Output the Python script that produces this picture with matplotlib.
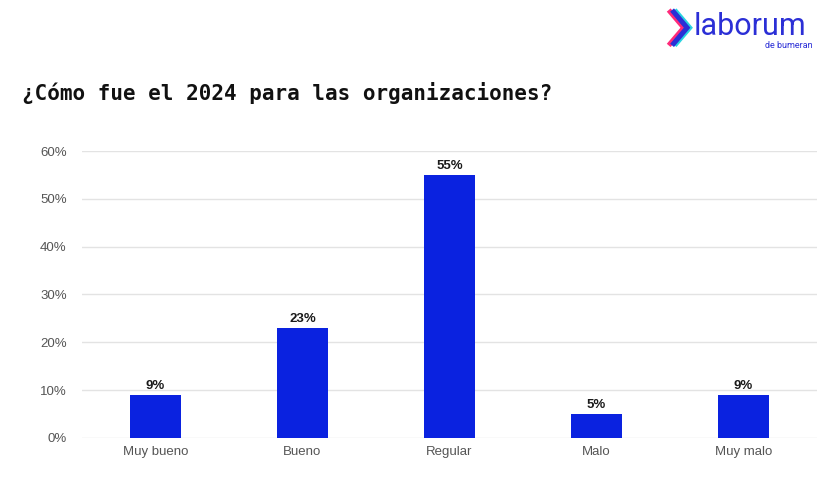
import matplotlib.pyplot as plt
from matplotlib.ticker import PercentFormatter

categories = ['Muy bueno', 'Bueno', 'Regular', 'Malo', 'Muy malo']
values = [0.09, 0.23, 0.55, 0.05, 0.09]
labels = ['9%', '23%', '55%', '5%', '9%']
yticks = [0, 0.1, 0.2, 0.3, 0.4, 0.5, 0.6]

bar_color = '#0a22e0'
brand = '#2b2fd6'

fig = plt.figure(figsize=(8.4, 4.78), dpi=100, facecolor='white')
ax = fig.add_axes([0.0976, 0.0837, 0.875, 0.6004])

x = range(len(categories))
ax.bar(x, values, width=0.35, color=bar_color, zorder=3)
for i, (v, lab) in enumerate(zip(values, labels)):
    ax.text(i, v + 0.007, lab, ha='center', va='bottom', fontsize=9.5,
            fontweight='bold', color='#1a1a1a', family='Liberation Sans')

ax.set_xlim(-0.5, len(categories) - 0.5)
ax.set_ylim(0, 0.6)
ax.set_yticks(yticks)
ax.yaxis.set_major_formatter(PercentFormatter(1.0, decimals=0))
ax.set_xticks(list(x))
ax.set_xticklabels(categories)
ax.grid(axis='y', color='#e3e3e3', linewidth=1, zorder=0)
ax.tick_params(length=0, labelsize=9.5, colors='#555555', pad=6)
ax.tick_params(axis='y', pad=11)
for lab in ax.get_xticklabels() + ax.get_yticklabels():
    lab.set_family('Liberation Sans')
for spine in ax.spines.values():
    spine.set_visible(False)

# title
fig.text(0.026, 0.805, '¿Cómo fue el 2024 para las organizaciones?', fontsize=15,
         fontweight='bold', family='DejaVu Sans Mono', color='#111111',
         ha='left', va='center')

# logo
lx, ly = 0.802, 0.945
for dx, c in [(-0.004, '#ff2a7a'), (0.003, '#29d3e0'), (0.0, brand)]:
    fig.lines.append(plt.Line2D([lx + dx, lx + dx + 0.016, lx + dx],
                                [ly + 0.03, ly - 0.003, ly - 0.036],
                                transform=fig.transFigure, color=c,
                                linewidth=3.6, solid_joinstyle='miter'))
fig.text(0.826, 0.945, 'laborum', fontsize=22, color=brand,
         family='Roboto', ha='left', va='center')
fig.text(0.968, 0.905, 'de bumeran', fontsize=6.5, color=brand,
         family='Roboto', ha='right', va='center')

plt.savefig('out.png', dpi=100, facecolor='white')
